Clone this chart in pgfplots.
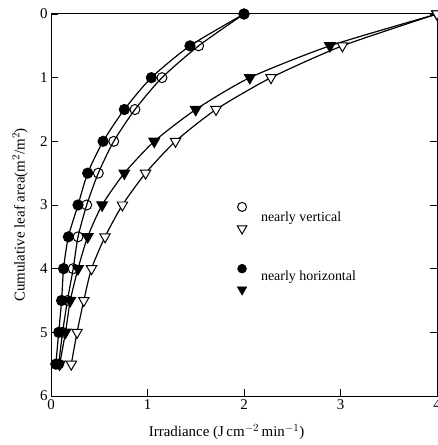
\documentclass[border=0pt]{standalone}
\usepackage{fontspec}
\setmainfont{Liberation Serif}
\usepackage{pgfplots}
\pgfplotsset{compat=1.18}
\begin{document}
\begin{tikzpicture}[x=1bp,y=1bp]
\begin{axis}[
  at={(0,0)}, anchor=south west,
  scale only axis, width=386bp, height=382bp,
  xmin=0, xmax=4, ymin=0, ymax=6,
  y dir=reverse,
  xtick={0,1,2,3,4}, ytick={0,1,2,3,4,5,6},
  xtick pos=bottom, ytick pos=both,
  tick align=inside, major tick length=7bp,
  axis line style={line width=1pt},
  tick style={line width=0.9pt, black},
  ticklabel style={font=\fontsize{15}{17}\selectfont},
  /pgf/number format/assume math mode=true,
  xlabel={Irradiance (J\,cm$^{-2}$\,min$^{-1}$)},
  ylabel={Cumulative leaf area(m$^{2}$/m$^{2}$)},
  every axis x label/.style={at={(axis description cs:0.455,-0.094)}, anchor=center, font=\fontsize{15}{17}\selectfont},
  every axis y label/.style={at={(axis description cs:-0.08,0.474)}, rotate=90, anchor=center, font=\fontsize{15}{17}\selectfont},
  clip=false,
]
% nearly horizontal, circles
\addplot[black, line width=1.2pt, smooth, tension=0.4, mark=*, mark size=5bp, mark options={solid, fill=black}]
coordinates {(2.0,0) (1.44,0.5) (1.04,1) (0.76,1.5) (0.54,2) (0.38,2.5) (0.28,3) (0.18,3.5) (0.13,4) (0.11,4.5) (0.08,5) (0.05,5.5)};
% nearly vertical, circles
\addplot[black, line width=1.2pt, smooth, tension=0.4, mark=o, mark size=5bp, mark options={solid, fill=white, line width=1pt}]
coordinates {(2.0,0) (1.53,0.5) (1.15,1) (0.87,1.5) (0.65,2) (0.49,2.5) (0.37,3) (0.28,3.5) (0.23,4) (0.17,4.5) (0.12,5) (0.08,5.5)};
% nearly horizontal, triangles
\addplot[black, line width=1.2pt, smooth, tension=0.4, mark=triangle*, mark size=6bp, mark options={solid, fill=black, rotate=180}]
coordinates {(4,0) (2.89,0.5) (2.06,1) (1.50,1.5) (1.07,2) (0.76,2.5) (0.53,3) (0.38,3.5) (0.28,4) (0.20,4.5) (0.15,5) (0.09,5.5)};
% nearly vertical, triangles
\addplot[black, line width=1.2pt, smooth, tension=0.4, mark=triangle*, mark size=6bp, mark options={solid, fill=white, rotate=180, line width=1pt}]
coordinates {(4,0) (3.02,0.5) (2.28,1) (1.71,1.5) (1.29,2) (0.98,2.5) (0.74,3) (0.56,3.5) (0.42,4) (0.34,4.5) (0.27,5) (0.21,5.5)};
% legend marks
\addplot[only marks, mark=o, mark size=4.5bp, mark options={fill=white, line width=1pt}] coordinates {(1.98,3.03)};
\addplot[only marks, mark=triangle*, mark size=5.5bp, mark options={fill=white, rotate=180, line width=1pt}] coordinates {(1.98,3.37)};
\addplot[only marks, mark=*, mark size=4.5bp, mark options={fill=black}] coordinates {(1.98,4.0)};
\addplot[only marks, mark=triangle*, mark size=5.5bp, mark options={fill=black, rotate=180}] coordinates {(1.98,4.33)};
\node[anchor=west, font=\fontsize{14}{16}\selectfont] at (axis cs:2.14,3.2) {nearly vertical};
\node[anchor=west, font=\fontsize{14}{16}\selectfont] at (axis cs:2.14,4.13) {nearly horizontal};
\end{axis}
\pgfresetboundingbox
\path[use as bounding box] (-51,-49) rectangle (387,396);
\end{tikzpicture}
\end{document}
